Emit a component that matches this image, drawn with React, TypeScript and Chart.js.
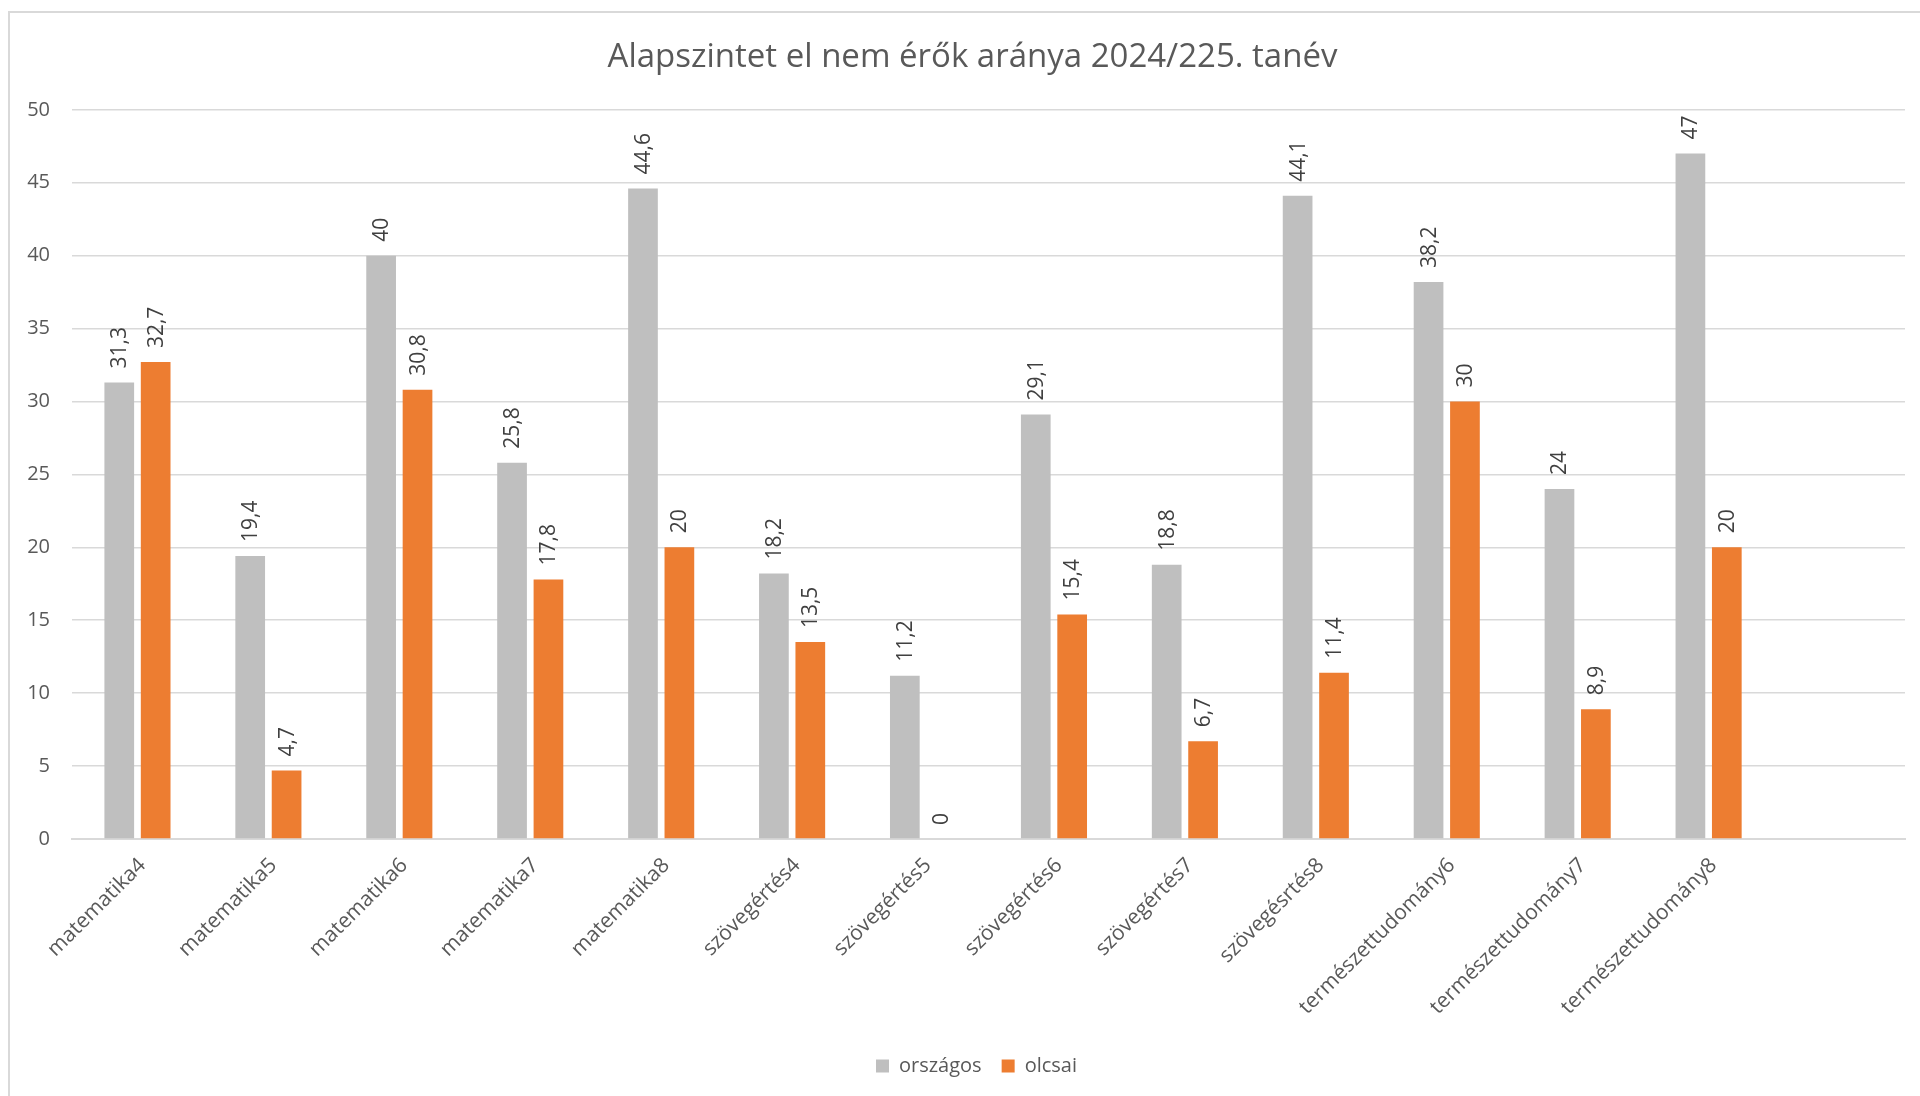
import React, { useEffect, useRef } from 'react';
import { Chart, registerables } from 'chart.js';

Chart.register(...registerables);

const TITLE = 'Alapszintet el nem érők aránya 2024/225. tanév';

const categories = [
  'matematika4',
  'matematika5',
  'matematika6',
  'matematika7',
  'matematika8',
  'szövegértés4',
  'szövegértés5',
  'szövegértés6',
  'szövegértés7',
  'szövegésrtés8',
  'természettudomány6',
  'természettudomány7',
  'természettudomány8',
  '',
];

const orszagos = [31.3, 19.4, 40, 25.8, 44.6, 18.2, 11.2, 29.1, 18.8, 44.1, 38.2, 24, 47, null];
const olcsai = [32.7, 4.7, 30.8, 17.8, 20, 13.5, 0, 15.4, 6.7, 11.4, 30, 8.9, 20, null];

const seriesNames = ['országos', 'olcsai'];
const seriesColors = ['#BFBFBF', '#ED7D31'];

const Y_MIN = 0;
const Y_MAX = 50;
const Y_STEP = 5;

const FONT = '"Open Sans", "Noto Sans", sans-serif';
const TEXT_COLOR = '#595959';

const valueLabelPlugin = {
  id: 'valueLabels',
  afterDatasetsDraw(chart: any) {
    const ctx = chart.ctx;
    ctx.save();
    ctx.font = `21px ${FONT}`;
    ctx.fillStyle = '#404040';
    ctx.textAlign = 'left';
    ctx.textBaseline = 'middle';
    chart.data.datasets.forEach((ds: any, di: number) => {
      const meta = chart.getDatasetMeta(di);
      meta.data.forEach((el: any, i: number) => {
        const v = ds.data[i];
        if (v === null || v === undefined) return;
        ctx.save();
        ctx.translate(el.x + 1, el.y - 14);
        ctx.rotate(-Math.PI / 2);
        ctx.fillText(String(v).replace('.', ','), 0, 0);
        ctx.restore();
      });
    });
    ctx.restore();
  },
};

const boxShiftPlugin = {
  id: 'boxShift',
  afterLayout(chart: any) {
    if (chart.legend) {
      chart.legend.left += 19;
      chart.legend.right += 19;
    }
    if (chart.titleBlock) {
      chart.titleBlock.left += 15;
      chart.titleBlock.right += 15;
    }
  },
};

export default function App() {
  const canvasRef = useRef<HTMLCanvasElement | null>(null);

  useEffect(() => {
    if (!canvasRef.current) return;
    const chart = new Chart(canvasRef.current, {
      type: 'bar',
      data: {
        labels: categories,
        datasets: [
          {
            label: seriesNames[0],
            data: orszagos,
            backgroundColor: seriesColors[0],
            categoryPercentage: 0.556,
            barPercentage: 0.816,
          },
          {
            label: seriesNames[1],
            data: olcsai,
            backgroundColor: seriesColors[1],
            categoryPercentage: 0.556,
            barPercentage: 0.816,
          },
        ],
      },
      options: {
        animation: false,
        responsive: false,
        devicePixelRatio: 1,
        layout: { padding: { left: 0, right: 15, top: 0, bottom: 10 } },
        plugins: {
          title: {
            display: true,
            text: TITLE,
            color: TEXT_COLOR,
            font: { family: FONT, size: 33, weight: 'normal' },
            padding: { top: 24.6, bottom: 32.6 },
          },
          legend: {
            position: 'bottom',
            labels: {
              boxWidth: 13,
              boxHeight: 13,
              padding: 20,
              color: TEXT_COLOR,
              font: { family: FONT, size: 20 },
            },
          },
          tooltip: { enabled: false },
        },
        scales: {
          x: {
            grid: { display: false, drawTicks: false },
            border: { display: true, color: '#D9D9D9', width: 2 },
            ticks: {
              color: TEXT_COLOR,
              font: { family: FONT, size: 21 },
              minRotation: 45,
              maxRotation: 45,
              autoSkip: false,
              padding: 14,
              labelOffset: 5,
            },
            afterFit: (scale: any) => {
              scale.height = 197;
            },
          },
          y: {
            min: Y_MIN,
            max: Y_MAX,
            grid: { color: '#D9D9D9', lineWidth: 1.5, drawTicks: false },
            border: { display: false },
            ticks: {
              stepSize: Y_STEP,
              color: TEXT_COLOR,
              font: { family: FONT, size: 20 },
              padding: 22,
            },
            afterFit: (scale: any) => {
              scale.width = 62;
            },
          },
        },
      },
      plugins: [valueLabelPlugin, boxShiftPlugin],
    } as any);
    return () => chart.destroy();
  }, []);

  return (
    <div
      style={{
        position: 'fixed',
        left: 8,
        top: 11,
        width: 1912,
        height: 1085,
        borderLeft: '2px solid #D9D9D9',
        borderTop: '2px solid #D9D9D9',
        boxSizing: 'border-box',
        background: '#fff',
      }}
    >
      <canvas ref={canvasRef} width={1910} height={1083} style={{ display: 'block' }} />
    </div>
  );
}
